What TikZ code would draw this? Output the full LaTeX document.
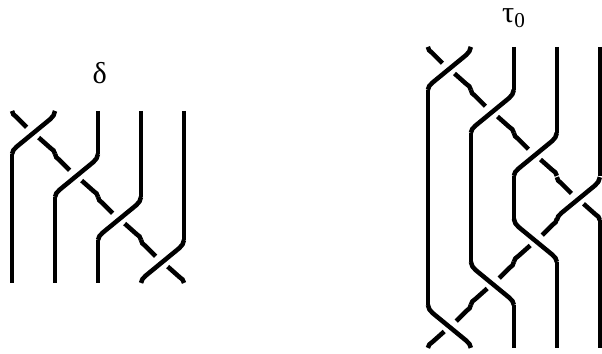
\documentclass[tikz,border=0pt]{standalone}
\usepackage{fontspec}
\setmainfont{Liberation Serif}
\tikzset{strand/.style={line width=3pt}, braidlabel/.style={inner sep=0pt,font=\fontsize{20}{20}\selectfont}}
% one crossing in a unit square, the over strand runs from top right to bottom left
\newcommand{\crossing}[1]{%
\begin{scope}[#1]
\draw[strand] (1,1) .. controls ++(0,-.08) and ++(.05,.05) .. (.89,.81) -- (.11,.17) .. controls ++(-.06,-.05) and ++(0,.06) .. (0,0);
\draw[strand] (0,1) .. controls ++(0,-.07) and ++(-.04,.03) .. (.09,.87) -- (.34,.62);
\draw[strand] (.62,.38) -- (.89,.14) .. controls ++(.05,-.04) and ++(0,.07) .. (1,0);
\end{scope}}

\begin{document}
\begin{tikzpicture}
\useasboundingbox (0,0) rectangle (14,8.21);
% delta
\foreach \x/\y in {.28/4.63,1.28/3.63,2.28/2.63,3.28/1.63} {\crossing{shift={(\x,\y)}}}
\draw[strand] (.28,4.63) -- (.28,1.63);
\draw[strand] (1.28,3.63) -- (1.28,1.63);
\draw[strand] (2.28,5.63) -- (2.28,4.63);
\draw[strand] (2.28,2.63) -- (2.28,1.63);
\draw[strand] (3.28,5.63) -- (3.28,3.63);
\draw[strand] (4.28,5.63) -- (4.28,2.63);
\node[braidlabel] (delta) at (2.32,6.52) {δ};
% tau
\foreach \x/\y in {9.95/6.12,10.95/5.12,11.95/4.12,12.95/3.09} {\crossing{shift={(\x,\y)}}}
\foreach \x/\y in {12.95/2.12,11.95/1.12,10.95/.12} {\crossing{shift={(\x,\y)},xscale=-1}}
\draw[strand] (9.95,6.12) -- (9.95,1.12);
\draw[strand] (10.95,5.12) -- (10.95,2.12);
\draw[strand] (11.95,7.12) -- (11.95,6.12);
\draw[strand] (11.95,4.12) -- (11.95,3.09);
\draw[strand] (11.95,1.12) -- (11.95,.12);
\draw[strand] (12.95,7.12) -- (12.95,5.12);
\draw[strand] (12.95,2.12) -- (12.95,.12);
\draw[strand] (13.95,7.12) -- (13.95,4.12);
\draw[strand] (13.95,3.09) -- (13.95,.12);
\node[braidlabel] (tau) at (11.95,7.78) {τ\textsubscript{0}};
\end{tikzpicture}
\end{document}
